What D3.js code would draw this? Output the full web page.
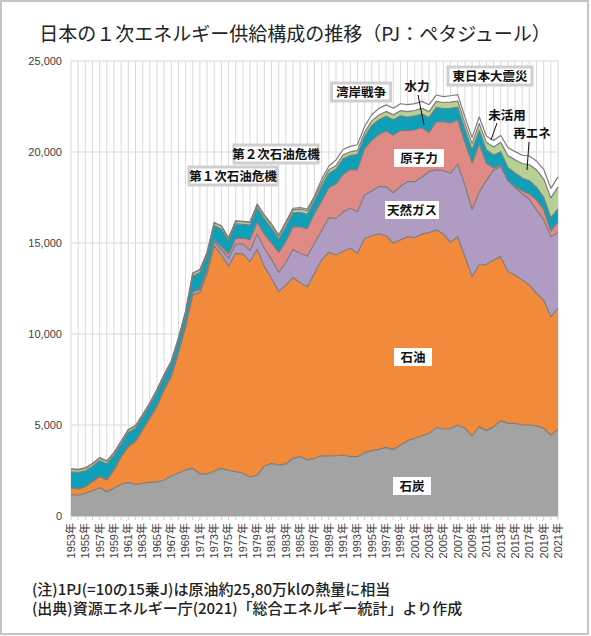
<!DOCTYPE html>
<html><head><meta charset="utf-8">
<script src="https://cdn.jsdelivr.net/npm/d3@7"></script>
<style>body{margin:0;background:#fff}svg{display:block}</style>
</head><body>
<svg id="c" width="591" height="636"></svg>
<script>
const years = d3.range(1953, 2022);
const seriesNames = ["石炭","石油","天然ガス","原子力","水力","再エネ","未活用"];
const coal = [1190,1140,1250,1390,1560,1340,1520,1740,1850,1740,
  1800,1850,1870,1980,2200,2360,2530,2620,2310,2310,
  2470,2620,2500,2440,2350,2130,2250,2750,2890,2800,
  2860,3170,3260,3080,3170,3310,3300,3310,3350,3260,
  3260,3480,3590,3660,3770,3650,3900,4140,4270,4400,
  4540,4870,4780,4820,5000,4820,4400,4910,4690,4910,
  5240,5090,5090,5000,5000,4950,4820,4450,4760];
const oil = [370,345,360,500,600,640,1010,1520,1960,2345,
  2925,3515,4140,4945,5455,6580,7875,9525,9960,11025,
  12370,11720,11240,11990,12050,11850,12400,10950,10170,9530,
  9830,9930,9560,9520,10165,10760,11190,11030,11210,11450,
  11170,11780,11810,11840,11630,11350,11270,11210,11020,11100,
  11030,10850,10720,10220,10350,9430,8750,8880,9140,9160,
  9010,8340,8150,7970,7690,7290,7050,6500,6650];
const gas = [10,10,10,10,20,20,20,30,40,50,
  60,70,80,80,90,90,110,150,160,180,
  230,290,420,500,550,600,840,1000,1040,1050,
  1250,1550,1600,1680,1650,1600,1900,2000,2150,2200,
  2290,2380,2460,2600,2680,2760,2950,3020,3080,3130,
  3350,3300,3470,3780,3990,3940,3690,3990,4610,4920,
  4960,5000,4800,4740,4730,4570,4400,4390,4150];
const nuclear = [0,0,0,0,0,0,0,0,0,0,
  0,0,0,5,10,10,20,40,70,90,
  90,190,230,320,310,600,650,770,900,1100,
  1150,1250,1460,1500,1650,1640,1650,1900,2070,2130,
  2300,2560,2780,2870,3080,3160,3070,2800,2850,2700,
  2150,2630,2700,2780,2420,2340,2560,2660,940,140,
  80,0,80,160,280,560,560,330,600];
const hydro = [860,900,860,830,870,870,780,660,740,680,
  640,630,710,620,610,600,560,850,870,720,
  800,950,730,800,760,800,800,850,820,730,
  820,750,800,800,680,800,780,820,850,760,
  850,650,820,800,800,850,800,750,760,760,
  830,800,720,800,700,700,720,750,750,700,
  720,720,730,700,720,700,680,730,720];
const renewable = [147,144,147,140,138,138,136,135,136,131,
  124,124,126,120,125,122,120,150,150,130,
  150,160,140,150,150,150,160,170,170,170,
  180,180,180,190,190,200,200,200,210,210,
  220,230,250,260,270,270,280,300,300,310,
  320,330,330,340,340,340,340,380,400,450,
  520,650,720,800,880,950,1020,1080,1200];
const unused = [20,20,20,20,20,20,20,20,20,20,
  20,20,20,20,20,20,20,20,20,20,
  20,20,20,20,20,20,40,50,60,60,
  70,80,80,90,80,200,200,300,300,300,
  310,320,350,360,360,360,380,380,380,380,
  380,350,320,350,350,350,330,350,350,350,
  380,450,450,450,480,480,520,520,550];
const yTicks = [0,5000,10000,15000,20000,25000];
const colors = ["#a3a3a3","#f18a3b","#b09bc3","#e08a86","#0fa0b9","#b6d193","#ffffff"];

const svg = d3.select("#c");
svg.append("rect").attr("x",1).attr("y",1).attr("width",587).attr("height",633)
  .attr("fill","#fff").attr("stroke","#c4c4c4").attr("stroke-width",2);

const x = d3.scaleLinear().domain([1953,2021]).range([71,558]);
const y = d3.scaleLinear().domain([0,25000]).range([516,61]);

// grid
const g = svg.append("g");
g.selectAll(".vg").data(years).enter().append("line")
  .attr("x1",d=>x(d)).attr("x2",d=>x(d)).attr("y1",y(25000)).attr("y2",y(0))
  .attr("stroke","#d9d9d9").attr("stroke-width",1);
g.selectAll(".hg").data(yTicks).enter().append("line")
  .attr("x1",x(1953)).attr("x2",x(2021)).attr("y1",d=>y(d)).attr("y2",d=>y(d))
  .attr("stroke","#d9d9d9").attr("stroke-width",1);

// data table
const cols = [coal, oil, gas, nuclear, hydro, renewable, unused];
const rows = years.map((yr,i)=>{
  const r = {year: yr};
  seriesNames.forEach((n,k)=>{ r[n] = cols[k][i]; });
  return r;
});
const stacked = d3.stack().keys(seriesNames)(rows);
const area = d3.area().x(d=>x(d.data.year)).y0(d=>y(d[0])).y1(d=>y(d[1]));
const line = d3.line().x(d=>x(d.data.year)).y(d=>y(d[1]));
svg.append("g").selectAll("path").data(stacked).enter().append("path")
  .attr("d",area).attr("fill",(d,i)=>colors[i]);
svg.append("g").selectAll("path").data(stacked).enter().append("path")
  .attr("d",line).attr("fill","none").attr("stroke","#7d7d7d").attr("stroke-width",1.2)
  .attr("stroke-linejoin","round");

// axes
svg.append("line").attr("x1",x(1953)).attr("x2",x(2021)).attr("y1",y(0)+0.5).attr("y2",y(0)+0.5)
  .attr("stroke","#d0d0d0");
svg.append("g").selectAll("line").data(years).enter().append("line")
  .attr("x1",d=>x(d)).attr("x2",d=>x(d)).attr("y1",y(0)).attr("y2",y(0)+4)
  .attr("stroke","#cfcfcf");
svg.append("g").selectAll("text").data(yTicks).enter().append("text")
  .attr("x",62).attr("y",d=>y(d)).attr("dy","0.35em").attr("text-anchor","end")
  .attr("font-family","Liberation Sans, Arial, sans-serif").attr("font-size",11).attr("fill","#404040")
  .text(d=>d3.format(",")(d));
const xLabelYears = years.filter((d,i)=>i%2===0);
svg.append("g").selectAll("text").data(xLabelYears).enter().append("text")
  .attr("transform",d=>`translate(${x(d)},523) rotate(-90)`)
  .attr("dy","0.35em").attr("text-anchor","end")
  .attr("font-family","Liberation Sans, 'Noto Sans CJK JP', sans-serif").attr("font-size",11).attr("fill","#404040")
  .text(d=>d+"年");

// title
svg.append("text").attr("x",295).attr("y",41).attr("text-anchor","middle")
  .attr("font-family","'Noto Sans CJK JP', sans-serif").attr("font-size",19).attr("fill","#222")
  .text("日本の１次エネルギー供給構成の推移（PJ：ペタジュール）");

const jp = "'Noto Sans CJK JP', sans-serif";
// boxed event labels
const events = [
  {t:"第１次石油危機", cx:233, cy:176, w:88},
  {t:"第２次石油危機", cx:276, cy:154, w:84},
  {t:"湾岸戦争", cx:361, cy:92, w:59},
  {t:"東日本大震災", cx:490, cy:76, w:84}
];
events.forEach(e=>{
  svg.append("rect").attr("x",e.cx-e.w/2).attr("y",e.cy-9).attr("width",e.w).attr("height",18)
    .attr("fill","#fff").attr("stroke","#cfcfcf").attr("stroke-width",3);
  svg.append("text").attr("x",e.cx).attr("y",e.cy).attr("dy","0.36em").attr("text-anchor","middle")
    .attr("font-family",jp).attr("font-weight","bold").attr("font-size",12.5).attr("fill","#111").text(e.t);
});
// in-area labels
const inLabels = [
  {t:"原子力", cx:419, cy:158, w:50},
  {t:"天然ガス", cx:412, cy:210, w:54},
  {t:"石油", cx:413, cy:357, w:38},
  {t:"石炭", cx:412, cy:486, w:38}
];
inLabels.forEach(e=>{
  svg.append("rect").attr("x",e.cx-e.w/2).attr("y",e.cy-9).attr("width",e.w).attr("height",18).attr("fill","#fff");
  svg.append("text").attr("x",e.cx).attr("y",e.cy).attr("dy","0.36em").attr("text-anchor","middle")
    .attr("font-family",jp).attr("font-weight","bold").attr("font-size",12.5).attr("fill","#111").text(e.t);
});
// pointer labels
const pointers = [
  {t:"水力", tx:417, ty:86, x1:418, y1:95, x2:424, y2:125},
  {t:"未活用", tx:507, ty:115, x1:497, y1:123, x2:491, y2:140},
  {t:"再エネ", tx:532, ty:133, x1:529, y1:142, x2:527, y2:170}
];
pointers.forEach(p=>{
  svg.append("line").attr("x1",p.x1).attr("y1",p.y1).attr("x2",p.x2).attr("y2",p.y2)
    .attr("stroke","#111").attr("stroke-width",1);
  svg.append("text").attr("x",p.tx).attr("y",p.ty).attr("dy","0.36em").attr("text-anchor","middle")
    .attr("font-family",jp).attr("font-weight","bold").attr("font-size",12.5).attr("fill","#111").text(p.t);
});

// notes
const notes = ["(注)1PJ(=10の15乗J)は原油約25,80万klの熱量に相当",
               "(出典)資源エネルギー庁(2021)「総合エネルギー統計」より作成"];
svg.append("g").selectAll("text").data(notes).enter().append("text")
  .attr("x",32).attr("y",(d,i)=>595+i*19)
  .attr("font-family",jp).attr("font-weight",500).attr("font-size",15).attr("fill","#222")
  .text(d=>d);
</script>
</body></html>
